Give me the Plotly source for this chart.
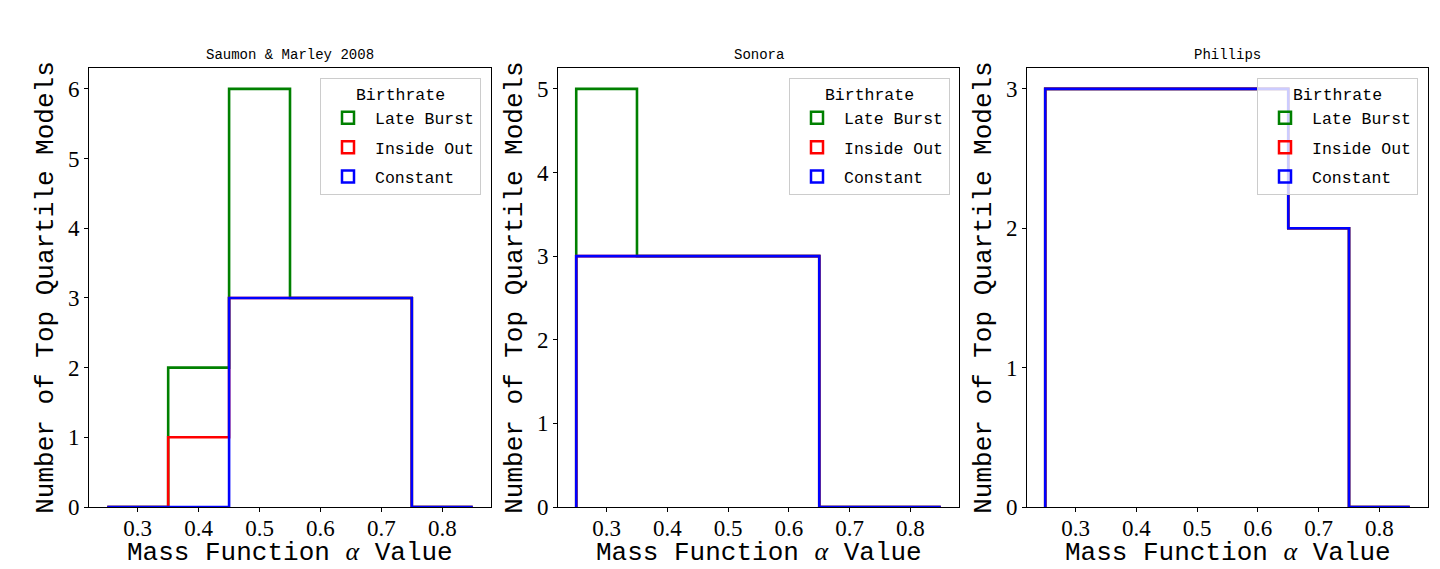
import plotly.graph_objects as go

# histogram bins (alpha values) and counts
bin_edges = [0.25, 0.35, 0.45, 0.55, 0.65, 0.75, 0.85]
x_ticks = [0.3, 0.4, 0.5, 0.6, 0.7, 0.8]
x_tick_labels = ['0.3', '0.4', '0.5', '0.6', '0.7', '0.8']

panel_titles = ['Saumon & Marley 2008', 'Sonora', 'Phillips']
birthrates = ['Late Burst', 'Inside Out', 'Constant']
colors = ['#008000', '#ff0000', '#0000ff']

saumon_late_burst = [0, 2, 6, 3, 3, 0]
saumon_inside_out = [0, 1, 3, 3, 3, 0]
saumon_constant = [0, 0, 3, 3, 3, 0]

sonora_late_burst = [5, 3, 3, 3, 0, 0]
sonora_inside_out = [3, 3, 3, 3, 0, 0]
sonora_constant = [3, 3, 3, 3, 0, 0]

phillips_late_burst = [3, 3, 3, 3, 2, 0]
phillips_inside_out = [3, 3, 3, 3, 2, 0]
phillips_constant = [3, 3, 3, 3, 2, 0]

panels = [
    [saumon_late_burst, saumon_inside_out, saumon_constant],
    [sonora_late_burst, sonora_inside_out, sonora_constant],
    [phillips_late_burst, phillips_inside_out, phillips_constant],
]

W, H = 1440, 569
x_domains = [(89 / W, 491 / W), (558 / W, 959 / W), (1027 / W, 1428 / W)]
y_domain = (1 - 507 / H, 1 - 68 / H)
legend_right = [481 / W, 950 / W, 1418 / W]

mono = 'Liberation Mono'
serif = 'Liberation Serif'
x_title = 'Mass Function <span style="font-family:Liberation Serif"><i>α</i></span> Value'
y_title = 'Number of Top Quartile Models'


def step_xy(counts):
    # matplotlib histtype='step' outline
    xs = [bin_edges[0]] + bin_edges[:-1] + [bin_edges[-1]]
    ys = [0] + list(counts) + [0]
    return xs, ys


fig = go.Figure()
layout = dict(
    width=W, height=H,
    margin=dict(l=0, r=0, t=0, b=0),
    paper_bgcolor='white',
    plot_bgcolor='white',
    showlegend=True,
    annotations=[],
)

for i, series in enumerate(panels):
    n = '' if i == 0 else str(i + 1)
    leg = 'legend' + n
    for name, counts, c in zip(birthrates, series, colors):
        xs, ys = step_xy(counts)
        fig.add_trace(go.Scatter(
            x=xs, y=ys, mode='lines', line_shape='hv',
            line=dict(color=c, width=2.6),
            showlegend=False, hoverinfo='skip',
            xaxis='x' + n, yaxis='y' + n,
        ))
    for name, c in zip(birthrates, colors):
        # legend patches only
        fig.add_trace(go.Bar(
            x=[None], y=[None], name=name,
            legendgroup=name + n,
            marker=dict(color='rgba(0,0,0,0)', line=dict(color=c, width=2.5)),
            legend=leg, xaxis='x' + n, yaxis='y' + n,
        ))

    ymax = max(max(s) for s in series)
    layout['xaxis' + n] = dict(
        domain=x_domains[i], anchor='y' + n, automargin=False,
        range=[0.22, 0.88],
        tickvals=x_ticks, ticktext=x_tick_labels,
        ticks='outside', ticklen=4, tickwidth=1, tickcolor='black',
        ticklabelstandoff=-4,
        showline=True, mirror=True, linecolor='black', linewidth=1,
        showgrid=False, zeroline=False,
        tickfont=dict(family=serif, size=23, color='black'),
    )
    layout['yaxis' + n] = dict(
        domain=y_domain, anchor='x' + n, automargin=False,
        range=[0, ymax * 1.05], dtick=1,
        ticks='outside', ticklen=4, tickwidth=1, tickcolor='black',
        showline=True, mirror=True, linecolor='black', linewidth=1,
        showgrid=False, zeroline=False,
        tickfont=dict(family=serif, size=23, color='black'),
        title=dict(text=y_title, standoff=6,
                   font=dict(family=mono, size=26, color='black')),
    )
    layout[leg] = dict(
        x=legend_right[i], xanchor='right',
        y=1 - 78 / H, yanchor='top',
        bgcolor='rgba(255,255,255,0.8)',
        bordercolor='#cccccc', borderwidth=1,
        itemwidth=44, tracegroupgap=5,
        font=dict(family=mono, size=16.5, color='black'),
        title=dict(text='Birthrate', side='top center',
                   font=dict(family=mono, size=16.5, color='black')),
    )
    xc = (x_domains[i][0] + x_domains[i][1]) / 2
    layout['annotations'].append(dict(
        text=panel_titles[i], xref='paper', yref='paper',
        x=xc, y=1 - 55 / H,
        xanchor='center', yanchor='middle', showarrow=False,
        font=dict(family=mono, size=14, color='black'),
    ))
    layout['annotations'].append(dict(
        text=x_title, xref='paper', yref='paper',
        x=xc, y=0, borderpad=0,
        xanchor='center', yanchor='bottom', showarrow=False,
        font=dict(family=mono, size=26, color='black'),
    ))

fig.update_layout(**layout)
fig.write_html("out.html", config={'displayModeBar': False},
               post_script="document.body.style.margin='0';")
